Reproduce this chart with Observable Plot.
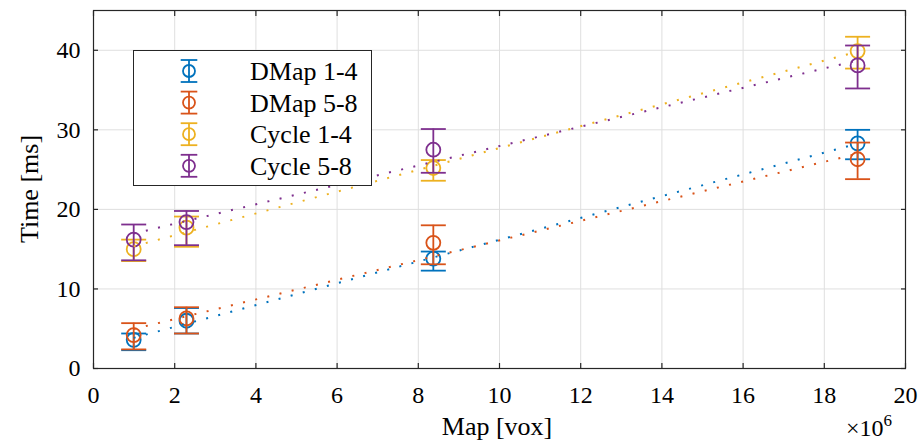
<!DOCTYPE html>
<html><head><meta charset="utf-8">
<script src="https://cdn.jsdelivr.net/npm/d3@7"></script>
<script src="https://cdn.jsdelivr.net/npm/@observablehq/plot@0.6"></script>
<style>
body{margin:0;background:#fff;}
#wrap{position:relative;width:919px;height:443px;font-family:'Liberation Serif','DejaVu Serif',serif;color:#000;}
#wrap svg text{font-family:'Liberation Serif','DejaVu Serif',serif;}
.lbl{position:absolute;font-size:26px;white-space:nowrap;line-height:1;font-family:'Liberation Serif','DejaVu Serif',serif;}
</style></head><body><div id="wrap"></div>
<script>
// Map size in units of 10^6 voxels
const mapSize = [0.99, 2.29, 8.37, 18.82];
const seriesNames = ["DMap 1-4", "DMap 5-8", "Cycle 1-4", "Cycle 5-8"];
const seriesColors = ["#0072BD", "#D95319", "#EDB120", "#7E2F8E"];
// Time [ms]: mean, lower, upper
const dmap14Mean = [3.6, 6.0, 13.8, 28.3];
const dmap14Low  = [2.3, 4.4, 12.3, 26.3];
const dmap14High = [4.4, 7.6, 14.7, 30.0];
const dmap58Mean = [4.2, 6.3, 15.8, 26.3];
const dmap58Low  = [2.4, 4.4, 13.1, 23.8];
const dmap58High = [5.7, 7.7, 18.0, 28.4];
const cyc14Mean = [15.0, 17.7, 25.2, 39.9];
const cyc14Low  = [13.5, 15.3, 23.6, 37.7];
const cyc14High = [16.2, 19.1, 26.2, 41.7];
const cyc58Mean = [16.2, 18.4, 27.5, 38.1];
const cyc58Low  = [13.6, 15.5, 24.6, 35.2];
const cyc58High = [18.1, 19.8, 30.1, 40.6];
const xTicks = [0, 2, 4, 6, 8, 10, 12, 14, 16, 18, 20];
const yTicks = [0, 10, 20, 30, 40];

const means = [dmap14Mean, dmap58Mean, cyc14Mean, cyc58Mean];
const lows = [dmap14Low, dmap58Low, cyc14Low, cyc58Low];
const highs = [dmap14High, dmap58High, cyc14High, cyc58High];
const rows = seriesNames.flatMap((s, i) => mapSize.map((x, j) => ({
  series: s, x, mean: means[i][j], low: lows[i][j], high: highs[i][j]
})));

const capSymbol = {draw(ctx, size) { const w = Math.sqrt(size / Math.PI); ctx.moveTo(-w, 0); ctx.lineTo(w, 0); }};
const axisColor = "#262626";
const gridColor = "#dfdfdf";
const serif = "'Liberation Serif','DejaVu Serif',serif";

const marks = [
  Plot.gridX(xTicks, {stroke: gridColor, strokeOpacity: 1}),
  Plot.gridY(yTicks, {stroke: gridColor, strokeOpacity: 1}),
];
seriesNames.forEach((s) => {
  const d = rows.filter(r => r.series === s);
  marks.push(
    Plot.ruleX(d, {x: "x", y1: "low", y2: "high", stroke: "series", strokeWidth: 1.8}),
    Plot.dot(d, {x: "x", y: "low", symbol: capSymbol, r: 12.5, fill: "none", stroke: "series", strokeWidth: 1.8}),
    Plot.dot(d, {x: "x", y: "high", symbol: capSymbol, r: 12.5, fill: "none", stroke: "series", strokeWidth: 1.8}),
    Plot.dot(d, {x: "x", y: "mean", r: 7, fill: "none", stroke: "series", strokeWidth: 1.8})
  );
});
seriesNames.forEach((s) => {
  const d = rows.filter(r => r.series === s);
  marks.push(Plot.linearRegressionY(d, {x: "x", y: "mean", stroke: "series", ci: 0, strokeWidth: 2, strokeDasharray: "2,10.5", strokeLinecap: "butt"}));
});
marks.push(
  Plot.frame({stroke: axisColor, strokeWidth: 1.2}),
  Plot.axisX(xTicks, {anchor: "bottom", tickSize: 5, dy: -5, tickFormat: () => "", label: null, stroke: axisColor, strokeWidth: 1.2}),
  Plot.axisX(xTicks, {anchor: "top", tickSize: 5, dy: 5, tickFormat: () => "", label: null, stroke: axisColor, strokeWidth: 1.2}),
  Plot.axisY(yTicks, {anchor: "left", tickSize: 5, dx: 5, tickFormat: () => "", label: null, stroke: axisColor, strokeWidth: 1.2}),
  Plot.axisY(yTicks, {anchor: "right", tickSize: 5, dx: -5, tickFormat: () => "", label: null, stroke: axisColor, strokeWidth: 1.2}),
  Plot.axisX(xTicks, {anchor: "bottom", tickSize: 0, tickPadding: 17, label: null, fontSize: 24, fontFamily: serif, fill: "#000", tickFormat: d => String(d)}),
  Plot.axisY(yTicks, {anchor: "left", tickSize: 0, tickPadding: 13, label: null, fontSize: 24, fontFamily: serif, fill: "#000", tickFormat: d => String(d)})
);

const chart = Plot.plot({
  width: 919, height: 443,
  marginLeft: 93, marginRight: 14, marginTop: 10, marginBottom: 75,
  x: {domain: [0, 20]},
  y: {domain: [0, 45]},
  color: {domain: seriesNames, range: seriesColors},
  style: {fontFamily: serif, background: "#fff", overflow: "visible"},
  marks
});
const wrap = document.getElementById("wrap");
wrap.appendChild(chart);

function addLabel(html, css) {
  const el = document.createElement("div");
  el.className = "lbl";
  el.innerHTML = html;
  Object.assign(el.style, css);
  wrap.appendChild(el);
  return el;
}
addLabel("Map [vox]", {left: "497px", top: "414px", transform: "translateX(-50%)"});
addLabel("×10<sup style='font-size:17px;vertical-align:10px;line-height:0'>6</sup>", {left: "846px", top: "416px", fontSize: "24px"});
addLabel("Time [ms]", {left: "30px", top: "189px", transform: "translate(-50%,-50%) rotate(-90deg)"});

// Legend
const leg = document.createElement("div");
Object.assign(leg.style, {position: "absolute", left: "133px", top: "50px", width: "239px", height: "136px",
  border: "1.2px solid " + axisColor, background: "#fff", boxSizing: "border-box"});
wrap.appendChild(leg);
const svg = d3.select(leg).append("svg").attr("width", 237).attr("height", 134)
  .style("position", "absolute").style("left", 0).style("top", 0);
const rowY = i => 20 + i * 31.6;
seriesNames.forEach((s, i) => {
  const g = svg.append("g").attr("transform", `translate(55,${rowY(i)})`)
    .attr("stroke", seriesColors[i]).attr("stroke-width", 1.8).attr("fill", "none");
  g.append("line").attr("x1", 0).attr("x2", 0).attr("y1", -11).attr("y2", 11);
  g.append("line").attr("x1", -8.3).attr("x2", 8.3).attr("y1", -11).attr("y2", -11);
  g.append("line").attr("x1", -8.3).attr("x2", 8.3).attr("y1", 11).attr("y2", 11);
  g.append("circle").attr("r", 6).attr("fill", "none");
  svg.append("text").attr("x", 116).attr("y", rowY(i)).attr("dy", "0.35em")
    .attr("font-size", 26).attr("font-family", serif).attr("fill", "#000").text(s);
});
</script></body></html>
